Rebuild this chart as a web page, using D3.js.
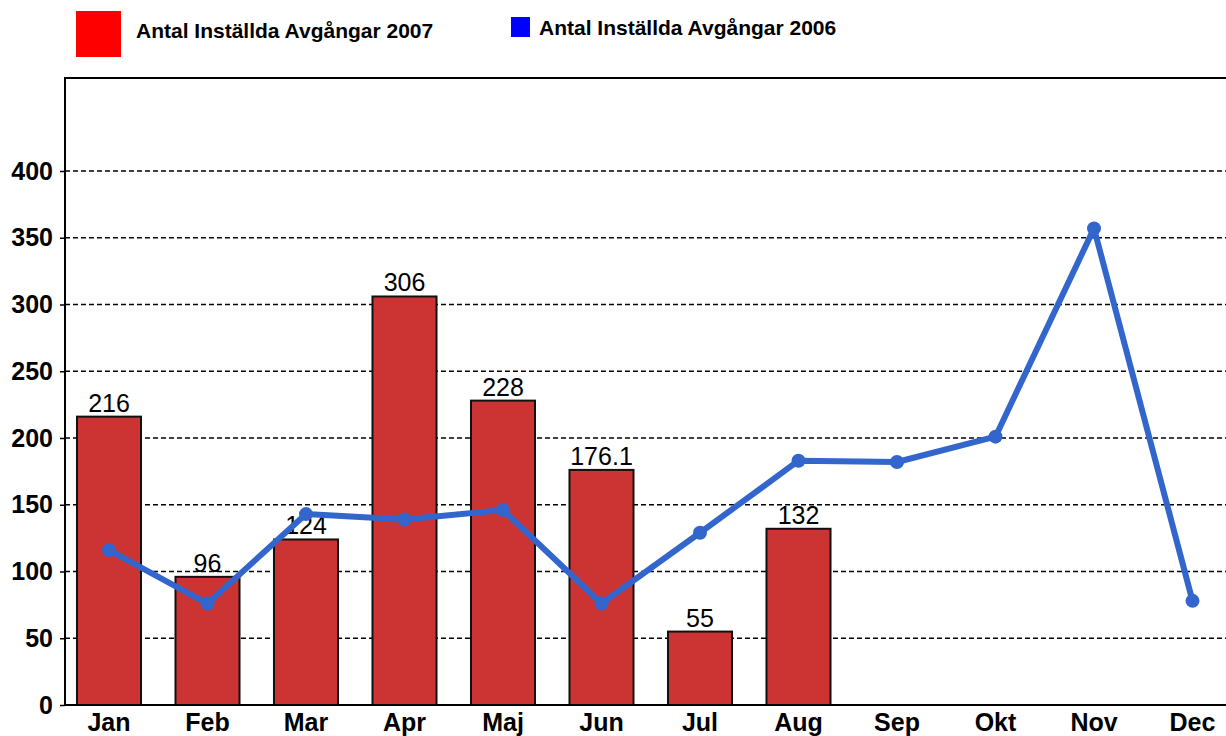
<!DOCTYPE html>
<html>
<head>
<meta charset="utf-8">
<script src="https://cdn.jsdelivr.net/npm/d3@7"></script>
<style>
  body { margin: 0; background: #fff; }
  svg { display: block; font-family: "Liberation Sans", Arial, sans-serif; }
</style>
</head>
<body>
<script>
'use strict';

const months = ["Jan", "Feb", "Mar", "Apr", "Maj", "Jun", "Jul", "Aug", "Sep", "Okt", "Nov", "Dec"];
const values2007 = [216, 96, 124, 306, 228, 176.1, 55, 132];
const labels2007 = ["216", "96", "124", "306", "228", "176.1", "55", "132"];
const values2006 = [116, 76, 143, 139, 146, 76, 129, 183, 182, 201, 357, 78];
const yTicks = [0, 50, 100, 150, 200, 250, 300, 350, 400];

const width = 1226, height = 736;
const plotLeft = 65, plotTop = 78, plotBottom = 705;

const svg = d3.select("body").append("svg")
  .attr("width", width)
  .attr("height", height);

// band step ~98.5px, first band starts a little left of the axis
let x = d3.scaleBand()
  .domain(months)
  .range([59.75, 59.75 + 12 * 98.5])
  .paddingInner(0.35)
  .paddingOuter(0.175);

let y = d3.scaleLinear()
  .domain([0, 400])
  .range([plotBottom, 171]);

// grid lines
svg.append("g")
  .selectAll("line")
  .data(yTicks.filter(d => d > 0))
  .enter()
  .append("line")
  .attr("x1", plotLeft)
  .attr("x2", width)
  .attr("y1", d => y(d))
  .attr("y2", d => y(d))
  .attr("stroke", "#000")
  .attr("stroke-width", 1.3)
  .attr("stroke-dasharray", "5,3");

// y axis
let yAxis = svg.append("g")
  .attr("transform", `translate(${plotLeft},0)`)
  .call(d3.axisLeft(y).tickValues(yTicks).tickSize(5).tickSizeOuter(0));
yAxis.select(".domain").remove();
yAxis.selectAll("text")
  .attr("font-size", 25)
  .attr("font-weight", "bold")
  .attr("font-family", "Liberation Sans, Arial, sans-serif")
  .attr("fill", "#000")
  .attr("x", -12);
yAxis.selectAll("line").attr("stroke", "#000").attr("stroke-width", 1.5);

// frame
svg.append("line")
  .attr("x1", plotLeft).attr("x2", plotLeft)
  .attr("y1", plotTop - 1).attr("y2", plotBottom)
  .attr("stroke", "#000").attr("stroke-width", 2);
svg.append("line")
  .attr("x1", plotLeft).attr("x2", width)
  .attr("y1", plotTop).attr("y2", plotTop)
  .attr("stroke", "#000").attr("stroke-width", 2);

// bars
svg.append("g")
  .selectAll("rect")
  .data(values2007)
  .enter()
  .append("rect")
  .attr("x", (d, i) => x(months[i]))
  .attr("width", x.bandwidth())
  .attr("y", d => y(d))
  .attr("height", d => y(0) - y(d))
  .attr("fill", "#cc3333")
  .attr("stroke", "#111")
  .attr("stroke-width", 2);

// bar labels
svg.append("g")
  .selectAll("text")
  .data(values2007)
  .enter()
  .append("text")
  .attr("x", (d, i) => x(months[i]) + x.bandwidth() / 2)
  .attr("y", d => y(d) - 5)
  .attr("text-anchor", "middle")
  .attr("font-size", 25)
  .attr("fill", "#000")
  .text((d, i) => labels2007[i]);

// bottom axis line
svg.append("line")
  .attr("x1", plotLeft).attr("x2", width)
  .attr("y1", plotBottom).attr("y2", plotBottom)
  .attr("stroke", "#000").attr("stroke-width", 2);

// x labels
svg.append("g")
  .selectAll("text")
  .data(months)
  .enter()
  .append("text")
  .attr("x", d => x(d) + x.bandwidth() / 2)
  .attr("y", 731)
  .attr("text-anchor", "middle")
  .attr("font-size", 25)
  .attr("font-weight", "bold")
  .attr("fill", "#000")
  .text(d => d);

// line 2006
let line = d3.line()
  .x((d, i) => x(months[i]) + x.bandwidth() / 2)
  .y(d => y(d));

svg.append("path")
  .datum(values2006)
  .attr("d", line)
  .attr("fill", "none")
  .attr("stroke", "#3366cc")
  .attr("stroke-width", 6)
  .attr("stroke-linejoin", "round");

svg.append("g")
  .selectAll("circle")
  .data(values2006)
  .enter()
  .append("circle")
  .attr("cx", (d, i) => x(months[i]) + x.bandwidth() / 2)
  .attr("cy", d => y(d))
  .attr("r", 7)
  .attr("fill", "#3366cc");

// legend
let legend = svg.append("g");
legend.append("rect")
  .attr("x", 76).attr("y", 11).attr("width", 45).attr("height", 46)
  .attr("fill", "#ff0000");
legend.append("text")
  .attr("x", 136).attr("y", 38)
  .attr("font-size", 21).attr("font-weight", "bold")
  .text("Antal Inställda Avgångar 2007");
legend.append("rect")
  .attr("x", 511).attr("y", 17).attr("width", 19).attr("height", 20)
  .attr("fill", "#0000ff");
legend.append("text")
  .attr("x", 539).attr("y", 35)
  .attr("font-size", 21).attr("font-weight", "bold")
  .text("Antal Inställda Avgångar 2006");
</script>
</body>
</html>
